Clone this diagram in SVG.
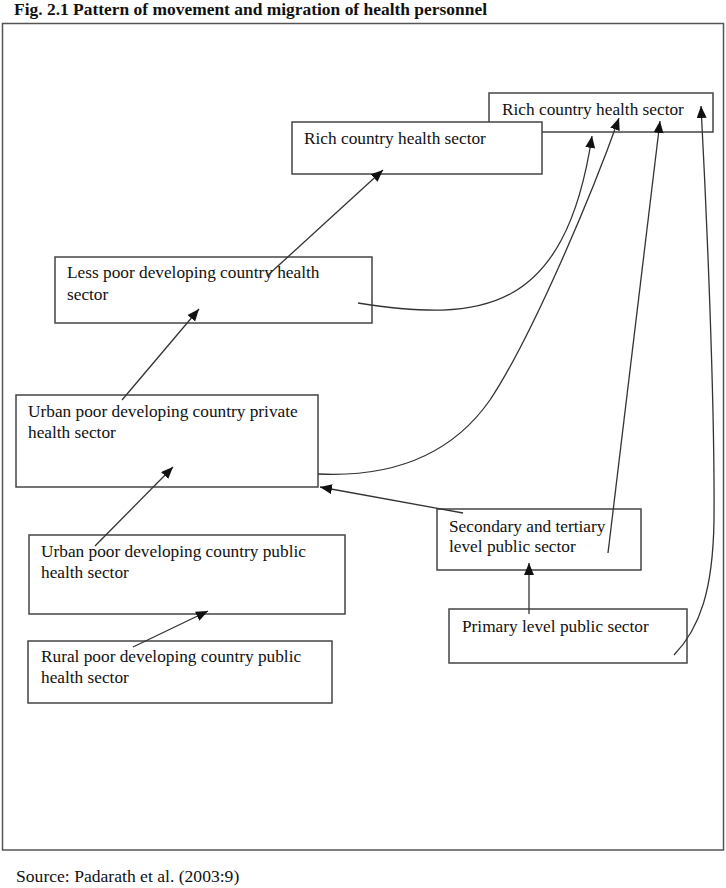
<svg xmlns="http://www.w3.org/2000/svg" width="726" height="888" viewBox="0 0 726 888">
<defs>
<marker id="ah" markerUnits="userSpaceOnUse" markerWidth="14" markerHeight="12" refX="12" refY="5" orient="auto">
<path d="M0,0 L12,5 L0,10 Z" fill="#111"/>
</marker>
<style>
.box{fill:#fff;stroke:#444;stroke-width:1.5}
.t{font-family:"Liberation Serif","Times New Roman",serif;font-size:17.3px;fill:#111}
.c{fill:none;stroke:#333;stroke-width:1.3;marker-end:url(#ah)}
</style>
</defs>
<rect width="726" height="888" fill="#fff"/>
<text x="14" y="15" font-family="Liberation Serif, Times New Roman, serif" font-weight="bold" font-size="17.4" textLength="473" lengthAdjust="spacingAndGlyphs" fill="#111">Fig. 2.1 Pattern of movement and migration of health personnel</text>
<rect x="2.5" y="23.5" width="721" height="826.5" fill="none" stroke="#555" stroke-width="1.5"/>

<g id="rich-a"><rect class="box" x="489" y="93" width="224" height="39"/><text class="t" x="502" y="115">Rich country health sector</text></g>
<g id="rich-b"><rect class="box" x="292" y="122" width="250" height="52"/><text class="t" x="304" y="144">Rich country health sector</text></g>
<g id="less-poor"><rect class="box" x="55" y="257" width="317" height="66"/><text class="t" x="67" y="278">Less poor developing country health</text><text class="t" x="67" y="300">sector</text></g>
<g id="urban-private"><rect class="box" x="16" y="395" width="302" height="92"/><text class="t" x="28" y="417">Urban poor developing country private</text><text class="t" x="28" y="438">health sector</text></g>
<g id="urban-public"><rect class="box" x="29" y="535" width="316" height="79"/><text class="t" x="41" y="557">Urban poor developing country public</text><text class="t" x="41" y="578">health sector</text></g>
<g id="rural-public"><rect class="box" x="28" y="641" width="304" height="62"/><text class="t" x="41" y="662">Rural poor developing country public</text><text class="t" x="41" y="683">health sector</text></g>
<g id="secondary"><rect class="box" x="437" y="509" width="204" height="61"/><text class="t" x="449" y="532">Secondary and tertiary</text><text class="t" x="449" y="552">level public sector</text></g>
<g id="primary"><rect class="box" x="449" y="609" width="238" height="54"/><text class="t" x="462" y="632">Primary level public sector</text></g>

<g id="connectors">
<path class="c" d="M267,276 L383,170"/>
<path class="c" d="M122,400 L199,309"/>
<path class="c" d="M95,546 L173,467"/>
<path class="c" d="M133,647 L208,611"/>
<path class="c" d="M463,513 L320,487"/>
<path class="c" d="M529,614 L529,563"/>
<path class="c" d="M608,553 L660,121"/>
<path class="c" d="M358,303 C480,322 565,315 592,136"/>
<path class="c" d="M318,474 C400,478 455,450 490,400 C530,340 590,200 619,118"/>
<path class="c" d="M674,655 C700,628 713,590 714,520 C715,400 706,200 701,106"/>
</g>

<text x="16" y="882" font-family="Liberation Serif, Times New Roman, serif" font-size="17.6" fill="#111">Source: Padarath et al. (2003:9)</text>
</svg>
